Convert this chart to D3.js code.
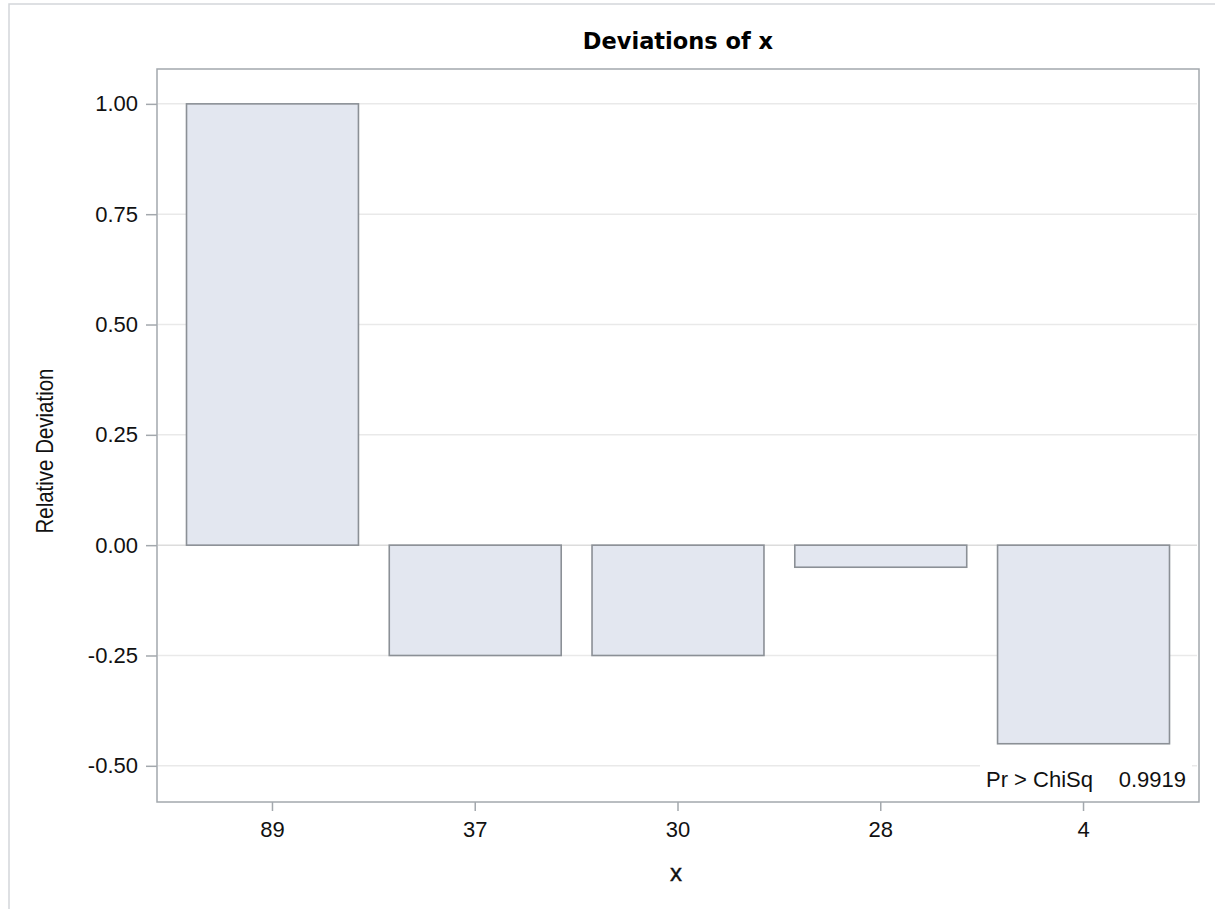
<!DOCTYPE html>
<html>
<head>
<meta charset="utf-8">
<script src="https://cdn.jsdelivr.net/npm/d3@7"></script>
<style>
  html, body { margin: 0; padding: 0; background: #fff; }
  svg { display: block; }
</style>
</head>
<body>
<svg id="chart" width="1215" height="909"></svg>
<script>
// Relative deviation of each x level from its expected frequency
const categories = ["89", "37", "30", "28", "4"];
const deviations = [1.00, -0.25, -0.25, -0.05, -0.45];
const yTickValues = [-0.50, -0.25, 0.00, 0.25, 0.50, 0.75, 1.00];
const chiSqLabel = "Pr > ChiSq";
const chiSqValue = "0.9919";

const svg = d3.select("#chart");
const frame = { left: 157, right: 1199, top: 69, bottom: 802 };
const textFont = "Liberation Sans, Arial, sans-serif";

// outer page border
svg.append("rect")
  .attr("x", 9).attr("y", 4)
  .attr("width", 1400).attr("height", 1100)
  .attr("fill", "none")
  .attr("stroke", "#d3d6da")
  .attr("stroke-width", 1.5);

const x = d3.scaleBand()
  .domain(categories)
  .range([frame.left, frame.right])
  .paddingInner(0.152)
  .paddingOuter(0.1455);

const y = d3.scaleLinear()
  .domain([-0.582, 1.079])
  .range([frame.bottom, frame.top]);

// horizontal grid lines
svg.append("g")
  .selectAll("line")
  .data(yTickValues)
  .join("line")
  .attr("x1", frame.left + 1)
  .attr("x2", frame.right - 2)
  .attr("y1", d => y(d))
  .attr("y2", d => y(d))
  .attr("stroke", d => d === 0 ? "#dcdcdc" : "#e9e9e9")
  .attr("stroke-width", 1.5);

// bars
svg.append("g")
  .selectAll("rect")
  .data(categories.map((c, i) => ({ c, v: deviations[i] })))
  .join("rect")
  .attr("x", d => x(d.c))
  .attr("width", x.bandwidth())
  .attr("y", d => y(Math.max(0, d.v)))
  .attr("height", d => Math.abs(y(d.v) - y(0)))
  .attr("fill", "#e3e7f0")
  .attr("stroke", "#8b9096")
  .attr("stroke-width", 1.6);

// statistic inset
const inset = svg.append("g");
inset.append("rect")
  .attr("x", 980).attr("y", 757)
  .attr("width", 212).attr("height", 38)
  .attr("fill", "#fff");
inset.append("text")
  .attr("x", 986).attr("y", 787)
  .attr("font-family", textFont)
  .attr("font-size", 22)
  .attr("fill", "#111")
  .text(chiSqLabel);
inset.append("text")
  .attr("x", 1186).attr("y", 787)
  .attr("text-anchor", "end")
  .attr("font-family", textFont)
  .attr("font-size", 22)
  .attr("fill", "#111")
  .text(chiSqValue);

// plot frame
svg.append("rect")
  .attr("x", frame.left).attr("y", frame.top)
  .attr("width", frame.right - frame.left)
  .attr("height", frame.bottom - frame.top)
  .attr("fill", "none")
  .attr("stroke", "#a3a8ad")
  .attr("stroke-width", 1.5);

// axes
const yAxis = svg.append("g")
  .attr("transform", `translate(${frame.left},0)`)
  .call(d3.axisLeft(y).tickValues(yTickValues).tickFormat(d3.format(".2f")).tickSize(11).tickPadding(8));
const xAxis = svg.append("g")
  .attr("transform", `translate(0,${frame.bottom})`)
  .call(d3.axisBottom(x).tickSize(9).tickPadding(6));

[yAxis, xAxis].forEach(g => {
  g.select(".domain").remove();
  g.selectAll(".tick line").attr("stroke", "#a3a8ad").attr("stroke-width", 1.5);
  g.selectAll(".tick text")
    .attr("font-family", textFont)
    .attr("font-size", 22)
    .attr("fill", "#111");
});
yAxis.selectAll(".tick text").text(d => d3.format(".2f")(d).replace("−", "-"));
xAxis.selectAll(".tick text").attr("dy", "0.9em");

// title
svg.append("text")
  .attr("x", (frame.left + frame.right) / 2)
  .attr("y", 49)
  .attr("text-anchor", "middle")
  .attr("font-family", "DejaVu Sans, sans-serif")
  .attr("font-weight", "bold")
  .attr("font-size", 22.5)
  .attr("fill", "#000")
  .text("Deviations of x");

// axis labels
svg.append("text")
  .attr("x", (frame.left + frame.right) / 2 - 2)
  .attr("y", 881)
  .attr("text-anchor", "middle")
  .attr("font-family", textFont)
  .attr("font-size", 24)
  .attr("stroke", "#111")
  .attr("stroke-width", 0.4)
  .attr("fill", "#111")
  .text("x");

svg.append("text")
  .attr("transform", "translate(53,451) rotate(-90)")
  .attr("text-anchor", "middle")
  .attr("font-family", textFont)
  .attr("font-size", 24)
  .attr("textLength", 165)
  .attr("lengthAdjust", "spacingAndGlyphs")
  .attr("fill", "#111")
  .text("Relative Deviation");
</script>
</body>
</html>
